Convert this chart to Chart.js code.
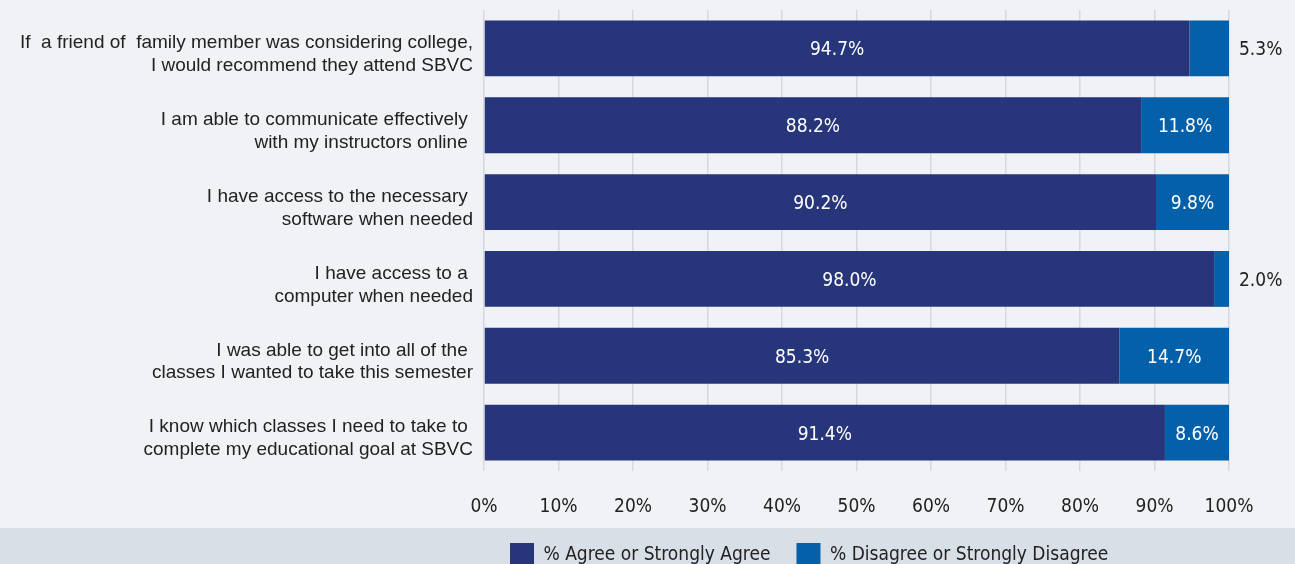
<!DOCTYPE html>
<html>
<head>
<meta charset="utf-8">
<script src="https://cdn.jsdelivr.net/npm/chart.js@4"></script>
<style>
  html, body { margin: 0; padding: 0; background: #f1f2f6; overflow: hidden; }
  #wrap { width: 1295px; height: 564px; overflow: hidden; }
  #box { width: 1295px; height: 577px; }
</style>
</head>
<body>
<div id="wrap"><div id="box"><canvas id="chart"></canvas></div></div>
<script>
// Survey statements (y categories)
const categories = [
    ['If  a friend of  family member was considering college,', 'I would recommend they attend SBVC'],
    ['I am able to communicate effectively ', 'with my instructors online '],
    ['I have access to the necessary ', 'software when needed'],
    ['I have access to a ', 'computer when needed'],
    ['I was able to get into all of the ', 'classes I wanted to take this semester'],
    ['I know which classes I need to take to ', 'complete my educational goal at SBVC']
];
const agreeValues = [94.7, 88.2, 90.2, 98.0, 85.3, 91.4];
const disagreeValues = [5.3, 11.8, 9.8, 2.0, 14.7, 8.6];
const seriesNames = ['% Agree or Strongly Agree', '% Disagree or Strongly Disagree'];
const xTicks = [0, 10, 20, 30, 40, 50, 60, 70, 80, 90, 100];

const NARROW = '"Liberation Sans Narrow", "DejaVu Sans Condensed", "Roboto", sans-serif';
const REGULAR = '"Liberation Sans", "Roboto", sans-serif';

// background + legend band
const bgPlugin = {
    id: 'bg',
    beforeDraw(chart) {
        const ctx = chart.ctx;
        ctx.save();
        ctx.fillStyle = '#f1f2f6';
        ctx.fillRect(0, 0, chart.width, chart.height);
        ctx.fillStyle = '#d9dfe7';
        ctx.fillRect(0, 528, chart.width, chart.height - 528);
        ctx.restore();
    }
};

// value labels on the bars (small ones go outside, right of the bar)
const valueLabels = {
    id: 'valueLabels',
    afterDatasetsDraw(chart) {
        const ctx = chart.ctx;
        ctx.save();
        ctx.font = '19px ' + NARROW;
        ctx.textBaseline = 'middle';
        chart.data.datasets.forEach((ds, di) => {
            const meta = chart.getDatasetMeta(di);
            meta.data.forEach((bar, i) => {
                const v = ds.data[i];
                const txt = v.toFixed(1) + '%';
                const left = Math.min(bar.x, bar.base);
                const right = Math.max(bar.x, bar.base);
                if (right - left < 40) {
                    ctx.fillStyle = '#222222';
                    ctx.textAlign = 'left';
                    ctx.fillText(txt, right + 10, bar.y + 2);
                } else {
                    ctx.fillStyle = '#ffffff';
                    ctx.textAlign = 'center';
                    ctx.fillText(txt, (left + right) / 2, bar.y + 2);
                }
            });
        });
        ctx.restore();
    }
};

new Chart(document.getElementById('chart'), {
    type: 'bar',
    data: {
        labels: categories,
        datasets: [
            { label: seriesNames[0], data: agreeValues, backgroundColor: '#27357a' },
            { label: seriesNames[1], data: disagreeValues, backgroundColor: '#0560aa' }
        ]
    },
    options: {
        indexAxis: 'y',
        responsive: true,
        maintainAspectRatio: false,
        animation: false,
        categoryPercentage: 1,
        barPercentage: 0.727,
        layout: { padding: { top: 10, right: 66, left: 0, bottom: 0 } },
        scales: {
            x: {
                stacked: true,
                min: 0,
                max: 100,
                afterBuildTicks(scale) { scale.ticks = xTicks.map(v => ({ value: v })); },
                afterFit(scale) { scale.height = 46; },
                border: { display: false },
                grid: { color: '#d3dadf', lineWidth: 1.5, drawTicks: false },
                ticks: {
                    padding: 25,
                    color: '#222222',
                    font: { family: NARROW, size: 19 },
                    callback: v => v + '%'
                }
            },
            y: {
                stacked: true,
                afterFit(scale) {
                    scale.width = 484;
                    scale.paddingTop = 0;
                    scale.paddingBottom = 0;
                },
                border: { display: false },
                grid: { display: false, drawTicks: false },
                ticks: {
                    padding: 11,
                    labelOffset: 6,
                    color: '#222222',
                    font: { family: REGULAR, size: 19, lineHeight: 1.2 }
                }
            }
        },
        plugins: {
            legend: {
                position: 'bottom',
                fullSize: false,
                align: 'start',
                labels: {
                    boxWidth: 24,
                    boxHeight: 24,
                    padding: 26,
                    color: '#222222',
                    font: { family: NARROW, size: 19 }
                }
            },
            tooltip: { enabled: false }
        }
    },
    plugins: [bgPlugin, valueLabels]
});
</script>
</body>
</html>
